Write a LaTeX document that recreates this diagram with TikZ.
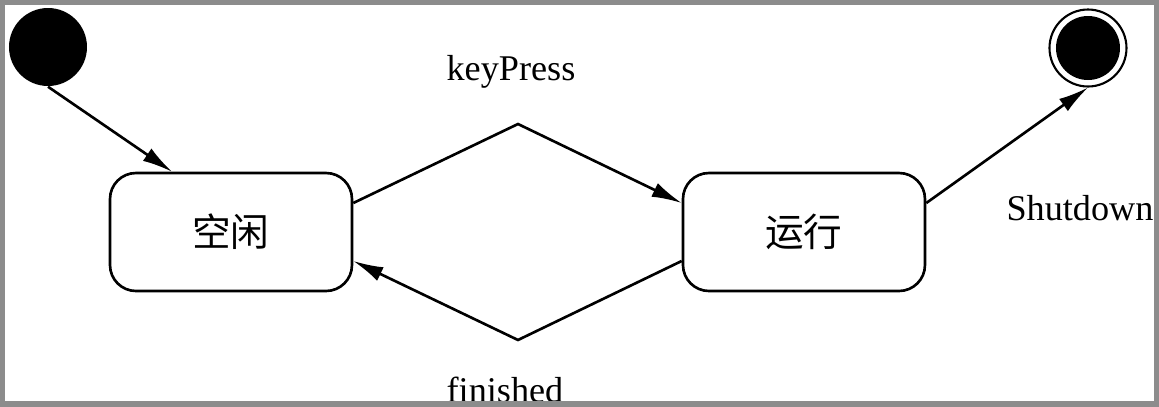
\documentclass[tikz,border=0pt]{standalone}
\usepackage{fontspec}
\setmainfont{Liberation Serif}
\newfontfamily\cjkfont{Noto Sans CJK SC}
\usetikzlibrary{arrows.meta}

\begin{document}
\begin{tikzpicture}[state/.style={draw,line width=0.75pt,rounded corners=0.26cm,minimum width=2.42cm,minimum height=1.18cm,font=\cjkfont\fontsize{11}{13}\selectfont},
        initial dot/.style={circle,fill=black,minimum size=0.78cm,inner sep=0pt},
        final dot/.style={circle,draw,line width=0.6pt,minimum size=0.77cm,inner sep=0pt,
            path picture={\fill (path picture bounding box.center) circle (0.32cm);}},
        trans/.style={-{Latex[length=3mm,width=1.5mm]},line width=0.75pt},
        label text/.style={font=\fontsize{10.3}{12}\selectfont}]
    \useasboundingbox (0,0) rectangle (11.59,4.06);
    \node[initial dot] (init) at (0.48,3.59) {};
    \node[final dot] (final) at (10.88,3.58) {};
    \node[state] (idle) at (2.31,1.74) {\raisebox{-0.3ex}{空闲}};
    \node[state] (run) at (8.04,1.74) {\raisebox{-0.3ex}{运行}};
    \coordinate (kp) at (5.18,2.82);
    \coordinate (fin) at (5.18,0.66);
    \draw[trans] (init.south) -- ([xshift=-0.59cm]idle.north);
    \draw[trans] ([yshift=0.29cm]idle.east) -- (kp) -- ([yshift=0.29cm]run.west);
    \draw[trans] ([yshift=-0.29cm]run.west) -- (fin) -- ([yshift=-0.29cm]idle.east);
    \draw[trans] ([yshift=0.29cm]run.east) -- (final.south);
    \node[label text] (kpLabel) at (5.11,3.34) {keyPress};
    \node[label text,anchor=base] (finLabel) at (5.05,0.04) {finished};
    \node[label text] (sdLabel) at (10.80,1.98) {Shutdown};
    \draw[black!45,line width=0.1cm] (0,0) rectangle (11.59,4.06);
\end{tikzpicture}
\end{document}
